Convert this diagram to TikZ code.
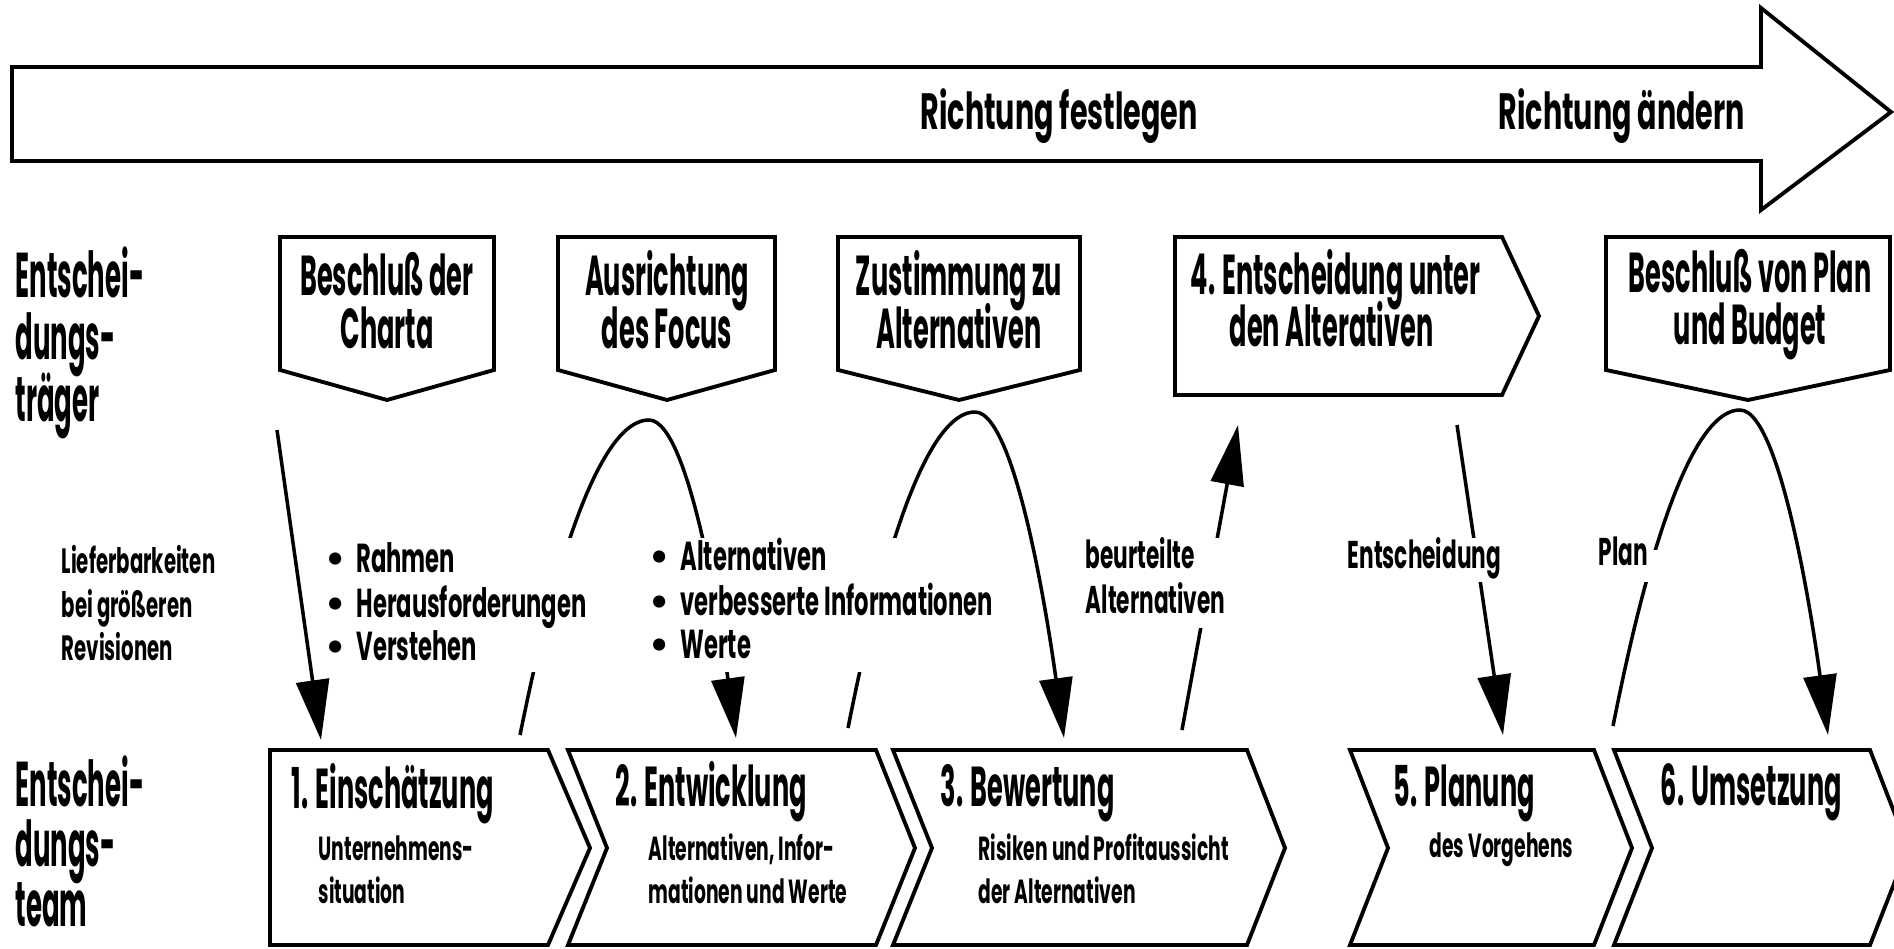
\documentclass[tikz,border=0pt]{standalone}
\usepackage{fontspec}
\newfontfamily\cfl[FakeStretch=0.41]{Poppins}
\newfontfamily\cfa[FakeStretch=0.455]{Poppins}
\newfontfamily\cfb[FakeStretch=0.56]{Poppins}
\newfontfamily\bulfont{Poppins}
\usetikzlibrary{arrows.meta}
\begin{document}
\begin{tikzpicture}[x=0.01cm,y=-0.01cm,
  shp/.style={line width=1.1pt,line join=miter},
  conn/.style={line width=1pt},
  arr/.style={conn,-{Triangle[length=0.6cm,width=0.33cm]}},
  mask/.style={fill=white,draw=none},
  lab/.style={inner sep=0pt,anchor=base west,font=\cfl\bfseries\fontsize{18}{20}\selectfont},
  boxtxt/.style={inner sep=0pt,anchor=base,font=\cfa\bfseries\fontsize{16}{18}\selectfont},
  boxtxtl/.style={boxtxt,anchor=base west},
  tit/.style={inner sep=0pt,anchor=base west,font=\cfa\bfseries\fontsize{16}{18}\selectfont},
  sub/.style={inner sep=0pt,anchor=base west,font=\cfb\bfseries\fontsize{9.5}{11}\selectfont},
  small/.style={inner sep=0pt,anchor=base west,font=\cfb\bfseries\fontsize{11}{12}\selectfont},
  lief/.style={inner sep=0pt,anchor=base west,font=\cfb\bfseries\fontsize{10}{11}\selectfont},
  bul/.style={inner sep=0pt,anchor=base west,font=\cfb\bfseries\fontsize{11.5}{12}\selectfont},
  rich/.style={inner sep=0pt,anchor=base west,font=\cfb\bfseries\fontsize{14.5}{16}\selectfont}]
\useasboundingbox (0,0) rectangle (1894,949);

% big direction arrow
\draw[shp] (12,67) -- (1761,67) -- (1761,8) -- (1891,112) -- (1761,210) -- (1761,161) -- (12,161) -- cycle;
\node[rich] (rf) at (920,130) {Richtung festlegen};
\node[rich] (ra) at (1498,130) {Richtung ändern};

% top row (Entscheidungsträger)
\draw[shp] (280,237) -- (494,237) -- (494,370) -- (387,400) -- (280,370) -- cycle;
\draw[shp] (558,237) -- (775,237) -- (775,370) -- (667,400) -- (558,370) -- cycle;
\draw[shp] (838,237) -- (1080,237) -- (1080,370) -- (959,400) -- (838,370) -- cycle;
\draw[shp] (1175,237) -- (1502,237) -- (1539,316) -- (1502,395) -- (1175,395) -- cycle;
\draw[shp] (1606,237) -- (1890,237) -- (1890,370) -- (1748,400) -- (1606,370) -- cycle;

% bottom row chevrons (Entscheidungsteam)
\draw[shp] (270,750) -- (548,750) -- (590,848) -- (548,945) -- (270,945) -- cycle;
\draw[shp] (568,750) -- (876,750) -- (915,848) -- (876,945) -- (568,945) -- (607,848) -- cycle;
\draw[shp] (893,750) -- (1247,750) -- (1285,848) -- (1247,945) -- (893,945) -- (932,848) -- cycle;
\draw[shp] (1350,750) -- (1594,750) -- (1632,848) -- (1594,945) -- (1350,945) -- (1388,848) -- cycle;
\draw[shp] (1614,750) -- (1870,750) -- (1908,848) -- (1870,945) -- (1614,945) -- (1652,848) -- cycle;

% connector end points
\coordinate (a1s) at (277,430);  \coordinate (a1e) at (321,740);
\coordinate (h1s) at (520,735);  \coordinate (h1t) at (649,420); \coordinate (h1e) at (736,738);
\coordinate (h2s) at (848,728);  \coordinate (h2t) at (975,412); \coordinate (h2e) at (1064,738);
\coordinate (bas) at (1182,730); \coordinate (bae) at (1238,425);
\coordinate (ens) at (1457,425); \coordinate (ene) at (1503,735);
\coordinate (h3s) at (1613,726); \coordinate (h3t) at (1740,410); \coordinate (h3e) at (1828,735);

\draw[arr] (a1s) -- (a1e);
\draw[arr] (h1s) parabola bend (h1t) (h1e);
\draw[arr] (h2s) parabola bend (h2t) (h2e);
\draw[arr] (bas) -- (bae);
\draw[arr] (ens) -- (ene);
\draw[arr] (h3s) parabola bend (h3t) (h3e);

% gaps where the labels interrupt the connectors
\fill[mask] (325,538) rectangle (585,672);
\fill[mask] (648,538) rectangle (990,672);
\fill[mask] (1080,538) rectangle (1245,628);
\fill[mask] (1340,538) rectangle (1500,582);
\fill[mask] (1592,550) rectangle (1660,582);

% left row labels
\node[lab] (t1) at (15,298) {Entschei-};
\node[lab] (t2) at (15,360) {dungs-};
\node[lab] (t3) at (15,422) {träger};
\node[lab] (m1) at (15,806) {Entschei-};
\node[lab] (m2) at (15,866) {dungs-};
\node[lab] (m3) at (15,926) {team};

% top box texts
\node[boxtxt] (b1a) at (387,296) {Beschluß der};
\node[boxtxt] (b1b) at (387,349) {Charta};
\node[boxtxt] (b2a) at (667,296) {Ausrichtung};
\node[boxtxt] (b2b) at (667,349) {des Focus};
\node[boxtxt] (b3a) at (959,296) {Zustimmung zu};
\node[boxtxt] (b3b) at (959,349) {Alternativen};
\node[boxtxtl] (b4a) at (1190,295) {4. Entscheidung unter};
\node[boxtxtl] (b4b) at (1229,347) {den Alterativen};
\node[boxtxt] (b5a) at (1750,293) {Beschluß von Plan};
\node[boxtxt] (b5b) at (1750,345) {und Budget};

% middle labels
\node[lief] (l1) at (61,573) {Lieferbarkeiten};
\node[lief] (l2) at (61,617) {bei größeren};
\node[lief] (l3) at (61,660) {Revisionen};
\node[bul] (r1) at (325,572) {{\bulfont •}\hspace{3pt}Rahmen};
\node[bul] (r2) at (325,617) {{\bulfont •}\hspace{3pt}Herausforderungen};
\node[bul] (r3) at (325,660) {{\bulfont •}\hspace{3pt}Verstehen};
\node[bul] (v1) at (649,570) {{\bulfont •}\hspace{3pt}Alternativen};
\node[bul] (v2) at (649,615) {{\bulfont •}\hspace{3pt}verbesserte Informationen};
\node[bul] (v3) at (649,658) {{\bulfont •}\hspace{3pt}Werte};
\node[small] (ba1) at (1085,568) {beurteilte};
\node[small] (ba2) at (1085,613) {Alternativen};
\node[small] (en) at (1347,568) {Entscheidung};
\node[small] (pl) at (1598,565) {Plan};

% chevron texts
\node[tit] (c1) at (291,808) {1. Einschätzung};
\node[sub] (c1a) at (318,860) {Unternehmens-};
\node[sub] (c1b) at (318,903) {situation};
\node[tit] (c2) at (615,806) {2. Entwicklung};
\node[sub] (c2a) at (648,860) {Alternativen, Infor-};
\node[sub] (c2b) at (648,903) {mationen und Werte};
\node[tit] (c3) at (940,806) {3. Bewertung};
\node[sub] (c3a) at (978,860) {Risiken und Profitaussicht};
\node[sub] (c3b) at (978,903) {der Alternativen};
\node[tit] (c5) at (1393,806) {5. Planung};
\node[sub] (c5a) at (1429,857) {des Vorgehens};
\node[tit] (c6) at (1660,805) {6. Umsetzung};
\end{tikzpicture}
\end{document}
